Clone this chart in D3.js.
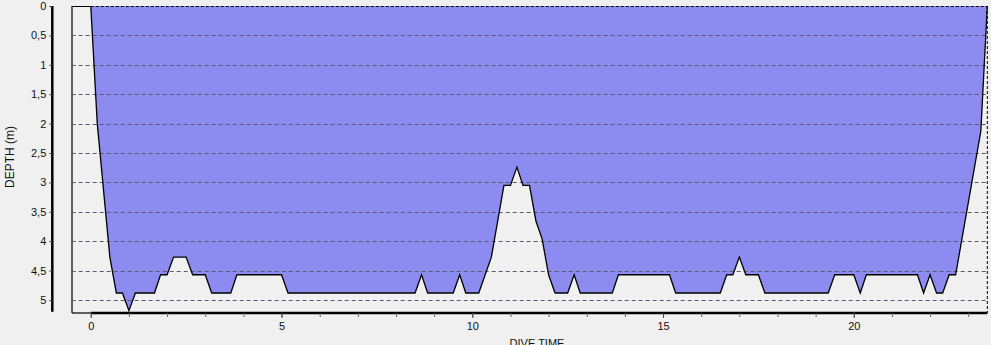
<!DOCTYPE html>
<html><head><meta charset="utf-8">
<script src="https://cdn.jsdelivr.net/npm/d3@7"></script>
<style>
html,body{margin:0;padding:0;background:#f0f0f0;}
svg{display:block;font-family:"Liberation Sans",Arial,sans-serif;}
</style></head>
<body>
<svg id="c" width="991" height="345"></svg>
<script>
// Dive profile: time in minutes, depth in metres
const diveTime = [0, 0.17, 0.5, 0.67, 0.83, 1.0, 1.17, 1.67, 1.83, 2.0, 2.17, 2.5, 2.67, 3.0, 3.17, 3.67, 3.83, 5.0, 5.17,
  8.5, 8.67, 8.83, 9.5, 9.67, 9.83, 10.17, 10.5, 10.83, 11.0, 11.17, 11.33, 11.5, 11.67, 11.83, 12.0, 12.17,
  12.5, 12.67, 12.83, 13.67, 13.83, 15.17, 15.33, 16.5, 16.67, 16.83, 17.0, 17.17, 17.5, 17.67,
  19.33, 19.5, 20.0, 20.17, 20.33, 21.67, 21.83, 22.0, 22.17, 22.33, 22.5, 22.67, 23.33, 23.5];
const depth = [0, 2.0, 4.27, 4.88, 4.88, 5.18, 4.88, 4.88, 4.57, 4.57, 4.27, 4.27, 4.57, 4.57, 4.88, 4.88, 4.57, 4.57, 4.88,
  4.88, 4.57, 4.88, 4.88, 4.57, 4.88, 4.88, 4.27, 3.05, 3.05, 2.74, 3.05, 3.05, 3.66, 3.96, 4.57, 4.88,
  4.88, 4.57, 4.88, 4.88, 4.57, 4.57, 4.88, 4.88, 4.57, 4.57, 4.27, 4.57, 4.57, 4.88,
  4.88, 4.57, 4.57, 4.88, 4.57, 4.57, 4.88, 4.57, 4.88, 4.88, 4.57, 4.57, 2.13, 0];
const yTicks = [0, 0.5, 1, 1.5, 2, 2.5, 3, 3.5, 4, 4.5, 5];
const xTickLabels = [0, 5, 10, 15, 20];
const xTicksMinor = d3.range(0, 24, 1);
const yLabel = "DEPTH (m)";
const xLabel = "DIVE TIME";

(function () {
const data = diveTime.map((t, i) => ({t, d: depth[i]}));
const svg = d3.select("#c");
const pL = 71.7, pR = 987.3, pT = 6, pB = 313;
const x = d3.scaleLinear().domain([-0.5, 23.5]).range([pL, pR]);
const y = d3.scaleLinear().domain([0, 5.2]).range([pT, 311.8]);

// frame (left, top-left stub, bottom-left stub)
svg.append("line").attr("x1", 72).attr("x2", 72).attr("y1", 6).attr("y2", pB)
  .attr("stroke", "#000").attr("stroke-width", 1.2);
svg.append("line").attr("x1", 72).attr("x2", x(0)).attr("y1", 6.5).attr("y2", 6.5)
  .attr("stroke", "#000").attr("stroke-width", 1);
svg.append("line").attr("x1", 72).attr("x2", x(0)).attr("y1", pB).attr("y2", pB)
  .attr("stroke", "#000").attr("stroke-width", 1.2);

// area fill
const area = d3.area().x(d => x(d.t)).y0(y(0)).y1(d => y(d.d));
svg.append("path").datum(data).attr("d", area).attr("fill", "#8c8cf0");

// gridlines
svg.append("g").selectAll("line").data(yTicks.filter(d => d > 0)).join("line")
  .attr("x1", pL).attr("x2", pR)
  .attr("y1", d => Math.round(y(d)) + 0.5).attr("y2", d => Math.round(y(d)) + 0.5)
  .attr("stroke", "#5a5a6a").attr("stroke-width", 1)
  .attr("stroke-dasharray", "4,3");
// top dashed border over the fill
svg.append("line").attr("x1", x(0)).attr("x2", pR).attr("y1", 6.5).attr("y2", 6.5)
  .attr("stroke", "#000").attr("stroke-width", 1).attr("stroke-dasharray", "3,2");
// right dashed border
svg.append("line").attr("x1", pR).attr("x2", pR).attr("y1", pT).attr("y2", pB)
  .attr("stroke", "#000").attr("stroke-width", 1).attr("stroke-dasharray", "3,2");

// profile line
const line = d3.line().x(d => x(d.t)).y(d => y(d.d));
svg.append("path").datum(data).attr("d", line).attr("fill", "none")
  .attr("stroke", "#000").attr("stroke-width", 1.3).attr("stroke-linejoin", "miter");

// y axis
const yAxisX = 52.3;
const ya = svg.append("g").attr("transform", `translate(${yAxisX},0)`);
ya.call(d3.axisLeft(y).tickValues(yTicks).tickSize(3).tickPadding(3)
  .tickFormat(d => String(d).replace(".", ",")));
ya.select(".domain").attr("d", `M0,${pT}V${311.8}`).attr("stroke-width", 2.5).attr("stroke", "#000");
ya.selectAll(".tick line").attr("stroke", "#444");
ya.selectAll("text").attr("font-size", 11).attr("fill", "#111")
  .attr("font-family", "'Liberation Sans',Arial,sans-serif");

// x axis
const xa = svg.append("g").attr("transform", `translate(0,${pB})`);
xa.call(d3.axisBottom(x).tickValues(xTicksMinor).tickSize(4).tickFormat(""));
xa.select(".domain").attr("d", `M${x(0)},0H${pR}`).attr("stroke-width", 2.5).attr("stroke", "#000");
xa.selectAll(".tick line").attr("stroke", "#666");
const xl = svg.append("g").attr("transform", `translate(0,${pB})`);
xl.call(d3.axisBottom(x).tickValues(xTickLabels).tickSize(5).tickPadding(4));
xl.select(".domain").remove();
xl.selectAll(".tick line").attr("stroke", "#444");
xl.selectAll("text").attr("font-size", 11).attr("fill", "#111")
  .attr("font-family", "'Liberation Sans',Arial,sans-serif");

// axis titles
svg.append("text").attr("transform", "translate(14,157) rotate(-90)")
  .attr("text-anchor", "middle").attr("font-size", 12).attr("fill", "#111").text(yLabel);
svg.append("text").attr("x", 537).attr("y", 347)
  .attr("text-anchor", "middle").attr("font-size", 11).attr("fill", "#111").text(xLabel);
})();
</script>
</body></html>
